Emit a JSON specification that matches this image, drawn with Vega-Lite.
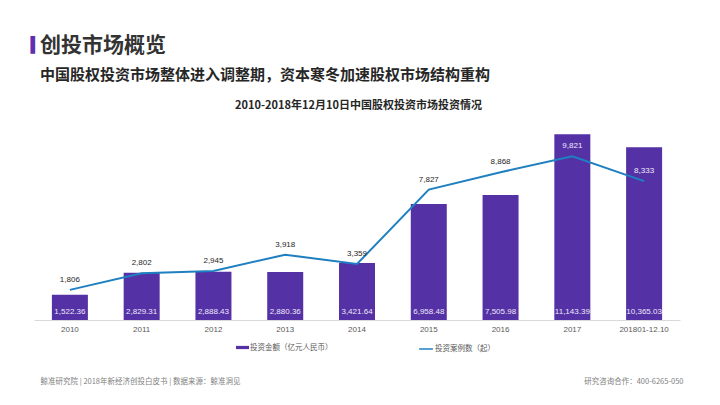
{
  "$schema": "https://vega.github.io/schema/vega-lite/v6.json",
  "autosize": {"type": "none"},
  "padding": {"left": 34, "top": 120, "right": 40, "bottom": 85},
  "width": 646,
  "height": 200,
  "background": "#ffffff",
  "config": {"view": {"stroke": null}},
  "title": {
    "text": "创投市场概览",
    "subtitle": "中国股权投资市场整体进入调整期，资本寒冬加速股权市场结构重构",
    "anchor": "start",
    "frame": "group",
    "dx": 6,
    "dy": 46,
    "offset": 0,
    "font": "Noto Sans CJK SC",
    "fontSize": 21,
    "fontWeight": "bold",
    "color": "#333333",
    "subtitleFont": "Noto Sans CJK SC",
    "subtitleFontSize": 15,
    "subtitleFontWeight": "bold",
    "subtitleColor": "#262626",
    "subtitlePadding": 12
  },
  "data": {
    "values": [
      {"year": "2010", "amount": 1522.36, "count": 1806},
      {"year": "2011", "amount": 2829.31, "count": 2802},
      {"year": "2012", "amount": 2888.43, "count": 2945},
      {"year": "2013", "amount": 2880.36, "count": 3918},
      {"year": "2014", "amount": 3421.64, "count": 3359},
      {"year": "2015", "amount": 6958.48, "count": 7827},
      {"year": "2016", "amount": 7505.98, "count": 8868},
      {"year": "2017", "amount": 11143.39, "count": 9821},
      {"year": "201801-12.10", "amount": 10365.03, "count": 8333}
    ]
  },
  "resolve": {"scale": {"y": "independent"}, "axis": {"x": "independent", "y": "independent"}},
  "layer": [
    {
      "layer": [
        {
          "mark": {"type": "bar", "width": 36},
          "encoding": {
            "x": {
              "field": "year", "type": "nominal", "sort": null,
              "scale": {"paddingInner": 0.5, "paddingOuter": 0.25},
              "axis": {
                "orient": "bottom", "labelAngle": 0, "ticks": false, "grid": false,
                "domainColor": "#d9d9d9", "domainWidth": 1,
                "labelColor": "#595959", "labelFontSize": 8, "labelFont": "Liberation Sans", "labelPadding": 5,
                "title": "鲸准研究院 | 2018年新经济创投白皮书 | 数据来源：鲸准洞见",
                "titleX": 6, "titleY": 61, "titleAlign": "left", "titleBaseline": "middle", "titleAnchor": null,
                "titleFont": "Noto Sans CJK SC", "titleFontSize": 7.5, "titleFontWeight": "normal", "titleColor": "#7f7f7f"
              }
            },
            "y": {
              "field": "amount", "type": "quantitative",
              "scale": {"domain": [0, 12000], "nice": false},
              "axis": {
                "orient": "left", "labels": false, "ticks": false, "domain": false, "grid": false,
                "title": "2010-2018年12月10日中国股权投资市场投资情况",
                "titleAngle": 0, "titleX": 324, "titleY": -15, "titleAlign": "center", "titleBaseline": "middle",
                "titleFont": "Noto Sans CJK SC", "titleFontSize": 11, "titleFontWeight": "bold", "titleColor": "#262626"
              }
            },
            "color": {
              "datum": "投资金额（亿元人民币）",
              "scale": {"range": ["#5531a6"]},
              "legend": {
                "orient": "none", "legendX": 202, "legendY": 221, "title": null,
                "symbolType": "M-1,-0.25H1V0.25H-1Z", "symbolSize": 169, "symbolStrokeWidth": 0,
                "labelFont": "Noto Sans CJK SC", "labelFontSize": 7.5, "labelColor": "#595959", "labelOffset": 1
              }
            }
          }
        },
        {
          "mark": {"type": "text", "baseline": "middle", "dy": -8, "font": "Liberation Sans", "fontSize": 8, "color": "#eee9f8"},
          "encoding": {
            "x": {"field": "year", "type": "nominal", "sort": null},
            "y": {"datum": 0, "type": "quantitative"},
            "text": {"field": "amount", "type": "quantitative", "format": ",.2f"}
          }
        }
      ]
    },
    {
      "layer": [
        {
          "mark": {"type": "line", "strokeWidth": 2},
          "encoding": {
            "x": {
              "field": "year", "type": "nominal", "sort": null,
              "axis": {
                "orient": "top", "labels": false, "ticks": false, "domain": false, "grid": false,
                "title": "▌", "titleX": -4, "titleY": -76, "titleAlign": "left", "titleBaseline": "middle", "titleAnchor": null,
                "titleFont": "DejaVu Sans Mono", "titleFontSize": 15, "titleFontWeight": "normal", "titleColor": "#5f2fb0"
              }
            },
            "y": {
              "field": "count", "type": "quantitative",
              "scale": {"domain": [0, 12000], "nice": false},
              "axis": {
                "orient": "right", "labels": false, "ticks": false, "domain": false, "grid": false,
                "title": "研究咨询合作：400-6265-050",
                "titleAngle": 0, "titleX": 3, "titleY": 261, "titleAlign": "right", "titleBaseline": "middle",
                "titleFont": "Noto Sans CJK SC", "titleFontSize": 7.5, "titleFontWeight": "normal", "titleColor": "#7f7f7f"
              }
            },
            "stroke": {
              "datum": "投资案例数（起）",
              "scale": {"range": ["#1f80c1"]},
              "legend": {
                "orient": "none", "legendX": 384, "legendY": 221, "title": null,
                "symbolType": "stroke", "symbolSize": 190, "symbolStrokeWidth": 1.5,
                "labelFont": "Noto Sans CJK SC", "labelFontSize": 7.5, "labelColor": "#595959", "labelOffset": 1
              }
            }
          }
        },
        {
          "mark": {"type": "text", "baseline": "middle", "dy": -10, "font": "Liberation Sans", "fontSize": 8},
          "encoding": {
            "x": {"field": "year", "type": "nominal", "sort": null},
            "y": {"field": "count", "type": "quantitative"},
            "text": {"field": "count", "type": "quantitative", "format": ",d"},
            "color": {
              "condition": {"test": "datum.year === '2017' || datum.year === '201801-12.10'", "value": "#f0ecf8"},
              "value": "#262626"
            }
          }
        }
      ]
    }
  ]
}
